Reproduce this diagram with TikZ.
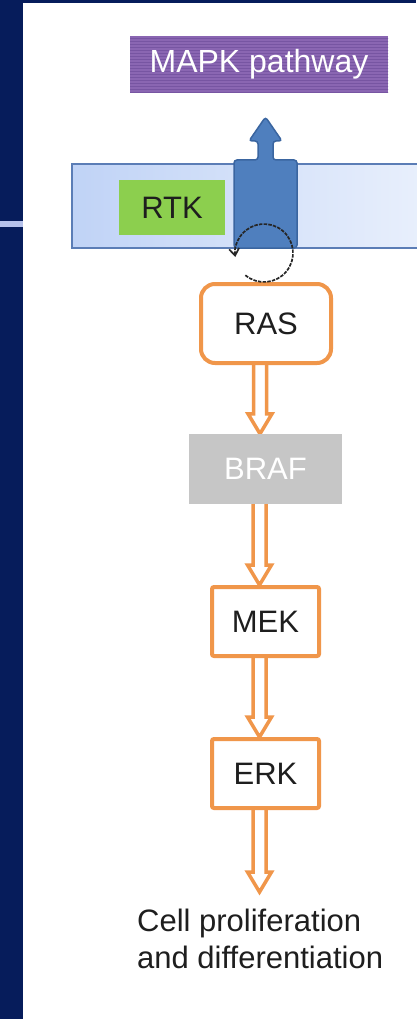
\documentclass[tikz,border=0pt]{standalone}
\usepackage{fontspec}
\setmainfont{Liberation Sans}
\usetikzlibrary{calc,arrows.meta}

\definecolor{navy}{HTML}{061C5B}
\definecolor{slideline}{HTML}{B6C2EC}
\definecolor{mapk}{HTML}{8A66B2}
\definecolor{mapkline}{HTML}{7755A2}
\definecolor{membraneedge}{HTML}{5B7DB6}
\definecolor{membraneleft}{HTML}{C0D3F6}
\definecolor{membraneright}{HTML}{E8EFFC}
\definecolor{rtkgreen}{HTML}{8CCF4E}
\definecolor{receptor}{HTML}{4F7FBE}
\definecolor{receptoredge}{HTML}{3A65A0}
\definecolor{orangeedge}{HTML}{F0964A}
\definecolor{brafgrey}{HTML}{C6C6C6}
\definecolor{ink}{HTML}{1E1E1E}

\pgfdeclarelayer{back}
\pgfdeclarelayer{mid}
\pgfsetlayers{back,mid,main}

\tikzset{
  label font/.style={font=\fontsize{31}{37}\selectfont},
  kinase/.style={draw=orangeedge, line width=4pt, fill=white, text=ink,
    label font, inner sep=0pt},
  hollow/.style={draw=orangeedge, line width=3.5pt, fill=white, line join=miter},
  dashloop/.style={draw=black!85, line width=1.7pt, dash pattern=on 3.5pt off 1.2pt,
    -{Straight Barb[length=7pt,width=10pt,line width=1.7pt]}},
}

% double-line block arrow from the bottom of #1 down to the top of #2
\newcommand\hollowarrow[2]{%
  \coordinate (ha-s) at ([xshift=-6pt]#1.south);
  \coordinate (ha-e) at (ha-s |- #2.north);
  \draw[hollow] ($(ha-s)+(-6.5pt,0)$) -- ($(ha-e)+(-6.5pt,20pt)$)
    -- ($(ha-e)+(-12pt,20pt)$) -- (ha-e) -- ($(ha-e)+(12pt,20pt)$)
    -- ($(ha-e)+(6.5pt,20pt)$) -- ($(ha-s)+(6.5pt,0)$);}

\begin{document}
\begin{tikzpicture}[x=1pt,y=-1pt]
\useasboundingbox (0,0) rectangle (416,1019);

% slide frame
\begin{pgfonlayer}{back}
  \fill[navy] (0,0) rectangle (416,1019);
  \fill[white] (23,3) rectangle (416,1019);
  \fill[slideline] (0,221) rectangle (23,227);
\end{pgfonlayer}

% pathway label with horizontal stripes
\node[fill=mapk, minimum width=258pt, minimum height=57pt, inner sep=0pt,
  text=white, font=\fontsize{32}{38}\selectfont,
  path picture={\foreach \i in {2,5,...,56}
    \draw[mapkline, line width=0.8pt]
      ([yshift=-\i pt]path picture bounding box.north west) -- ++(260pt,0);}]
  (mapk) at (259,64.5) {MAPK pathway};

% cell membrane
\draw[draw=membraneedge, line width=2pt, left color=membraneleft,
  right color=membraneright] (72,164) rectangle (420,248);
\node[fill=rtkgreen, minimum width=106pt, minimum height=55pt, inner sep=0pt,
  text=ink, label font] (rtk) at (172,207.5) {RTK};

% receptor spanning the membrane, pointing up to the pathway
\draw[fill=receptor, draw=receptoredge, line width=1.5pt, rounded corners=3pt]
  (234,248) -- (234,160) -- (258,160) -- (258,141) -- (249,141) -- (265.5,117)
  -- (282,141) -- (273,141) -- (273,160) -- (297,160) -- (297,248) -- cycle;
\coordinate (rec) at (265.5,160);

% kinase cascade
\node[kinase, rounded corners=14pt, minimum width=130pt, minimum height=79pt]
  (ras) at (266,323.5) {RAS};
\node[fill=brafgrey, text=white, label font, inner sep=0pt,
  minimum width=153pt, minimum height=70pt] (braf) at (265.5,469) {BRAF};
\node[kinase, rounded corners=2pt, minimum width=107pt, minimum height=69pt]
  (mek) at (265.5,621.5) {MEK};
\node[kinase, rounded corners=2pt, minimum width=107pt, minimum height=69pt]
  (erk) at (265.5,773.5) {ERK};
\node[anchor=north west, align=left, text=ink, label font, inner xsep=0pt,
  inner ysep=17pt] (cell) at (137,892)
  {Cell proliferation\\and differentiation};

% activation loop
\coordinate (loop) at (264,253);
\draw[dashloop] (loop) ++(-130:29pt) arc[start angle=-130, end angle=188, radius=29pt];

\begin{pgfonlayer}{mid}
  \hollowarrow{ras}{braf}
  \hollowarrow{braf}{mek}
  \hollowarrow{mek}{erk}
  \hollowarrow{erk}{cell}
\end{pgfonlayer}
\end{tikzpicture}
\end{document}
